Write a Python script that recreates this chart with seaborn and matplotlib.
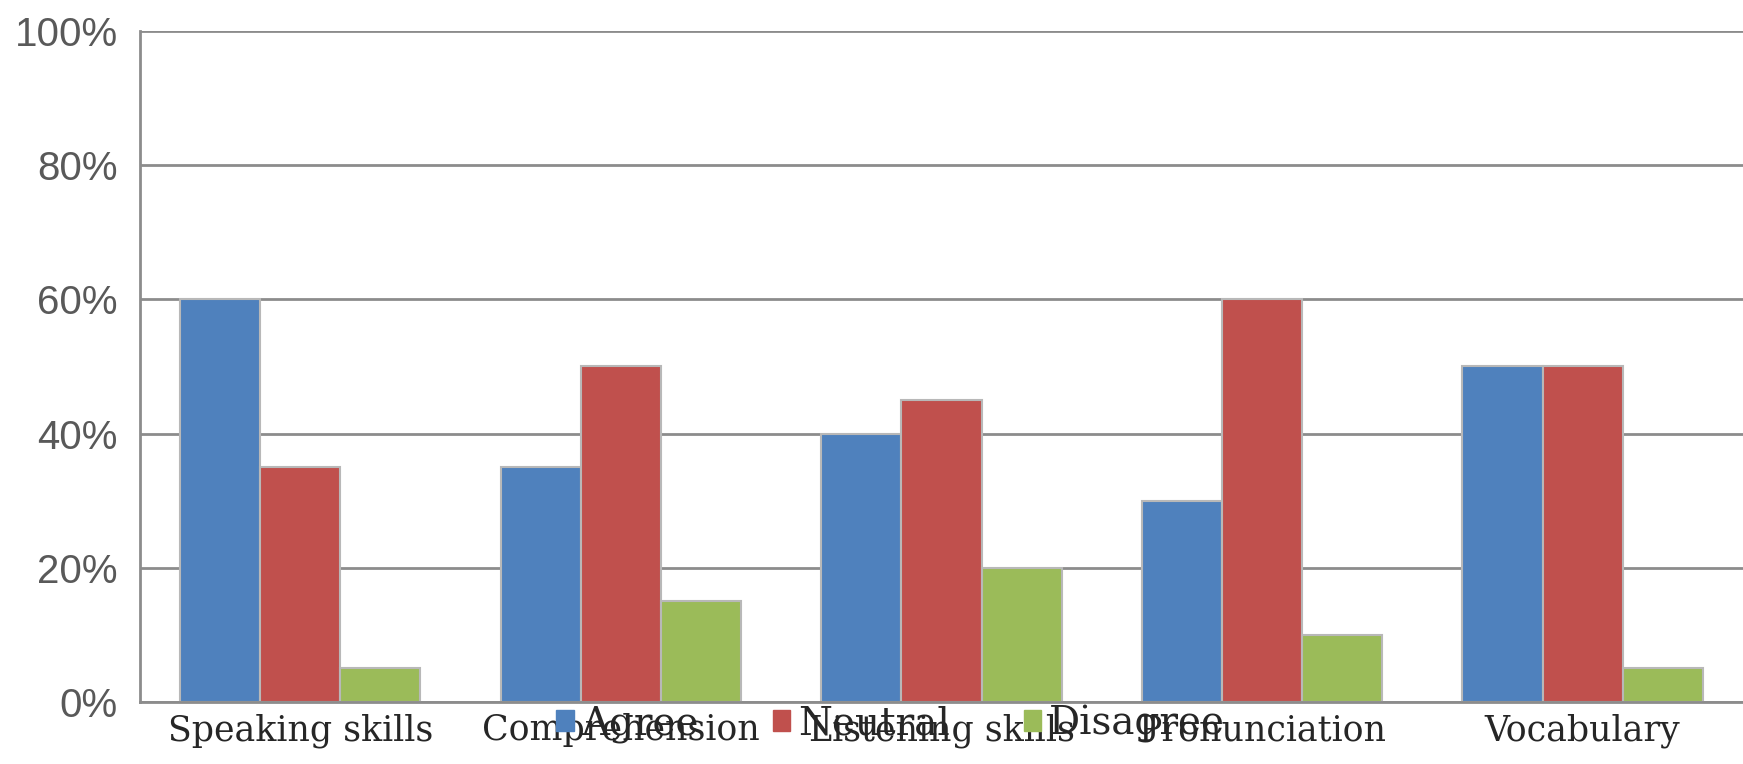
import pandas as pd
import numpy as np
import matplotlib.pyplot as plt
import seaborn as sns

# Data
skills = ['Speaking skills', 'Comprehension', 'Listening skills', 'Pronunciation', 'Vocabulary']
agree = [60, 35, 40, 30, 50]
neutral = [35, 50, 45, 60, 50]
disagree = [5, 15, 20, 10, 5]
responses = ['Agree', 'Neutral', 'Disagree']

# Long-form table for seaborn
data = pd.DataFrame({
    'Skill': skills * 3,
    'Response': [r for r in responses for _ in skills],
    'Percent': agree + neutral + disagree,
})

colors = {'Agree': '#4F81BD', 'Neutral': '#C0504D', 'Disagree': '#9BBB59'}

sns.set_style('white')

fig = plt.figure(figsize=(17.43, 7.64), dpi=100)
ax = fig.add_axes([0.0803, 0.0812, 0.9197, 0.8782])

sns.barplot(data=data, x='Skill', y='Percent', hue='Response', order=skills,
            hue_order=responses, palette=colors, width=0.75, gap=0,
            edgecolor='#B8B8B8', linewidth=1.5, saturation=1, ax=ax, legend=False)

ax.set_ylim(0, 100)
ax.set_xlim(-0.5, len(skills) - 0.5)
ax.set_yticks(np.arange(0, 101, 20))
ax.set_yticklabels([f'{v}%' for v in range(0, 101, 20)],
                   fontsize=29, color='#595959', family='Liberation Sans')
ax.set_xticks(range(len(skills)))
ax.set_xticklabels(skills, fontsize=25, color='#262626', family='DejaVu Serif')
ax.tick_params(axis='y', length=0, pad=16)
ax.tick_params(axis='x', length=0, pad=8)

# Gridlines
ax.yaxis.grid(True, color='#8C8C8C', linewidth=2)
ax.set_axisbelow(True)
ax.set_xlabel('')
ax.set_ylabel('')

for side in ['top', 'right']:
    ax.spines[side].set_visible(False)
ax.spines['left'].set_color('#8C8C8C')
ax.spines['left'].set_linewidth(2)
ax.spines['bottom'].set_color('#8C8C8C')
ax.spines['bottom'].set_linewidth(2)

# Legend overlapping the tick labels, as in the reference
handles = [plt.Rectangle((0, 0), 1, 1, color=colors[r]) for r in responses]
fig.legend(handles, responses, loc='center', ncol=3, bbox_to_anchor=(0.511, 0.052),
           frameon=False, prop={'family': 'DejaVu Serif', 'size': 28},
           handlelength=0.45, handleheight=0.45, handletextpad=0.2, columnspacing=1.9,
           labelcolor='#262626')

fig.savefig('out.png', dpi=100)
